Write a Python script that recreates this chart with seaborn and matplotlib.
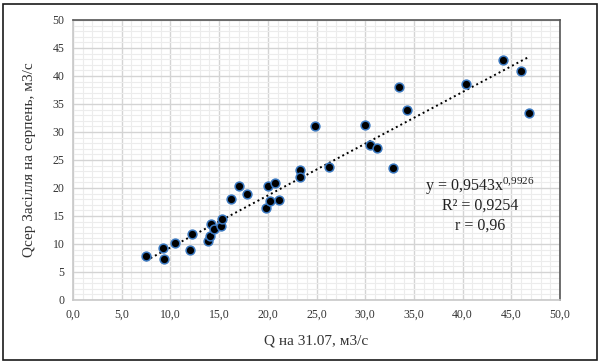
import numpy as np
import pandas as pd
import matplotlib
matplotlib.use("Agg")
import matplotlib.pyplot as plt
import seaborn as sns
from matplotlib.patches import Rectangle

# Discharge on 31.07 vs. mean August discharge, Zaseillia
q_jul31 = [7.5, 9.2, 9.3, 10.5, 12.0, 12.2, 13.9, 14.1, 14.2, 14.5, 15.2, 15.3,
           16.2, 17.0, 17.9, 19.8, 20.0, 20.2, 20.7, 21.1, 23.3, 23.3, 24.8,
           26.3, 30.0, 30.5, 31.2, 32.9, 33.5, 34.3, 40.4, 44.1, 46.0, 46.8]
q_aug = [7.8, 9.2, 7.3, 10.2, 8.9, 11.8, 10.5, 11.5, 13.5, 12.7, 13.2, 14.4,
         18.1, 20.4, 18.9, 16.4, 20.4, 17.7, 20.9, 17.8, 23.2, 21.9, 31.0,
         23.8, 31.2, 27.6, 27.1, 23.5, 38.0, 33.9, 38.6, 42.9, 40.9, 33.4]

# Power trend parameters
coef_a = 0.9543
coef_b = 0.9926
eq_lines = ["y = 0,9543x$^{0{,}9926}$", "R² = 0,9254", "r = 0,96"]

x_ticks = [0, 5, 10, 15, 20, 25, 30, 35, 40, 45, 50]
x_tick_labels = ["0,0", "5,0", "10,0", "15,0", "20,0", "25,0", "30,0", "35,0",
                 "40,0", "45,0", "50,0"]
y_ticks = [0, 5, 10, 15, 20, 25, 30, 35, 40, 45, 50]
y_tick_labels = ["0", "5", "10", "15", "20", "25", "30", "35", "40", "45", "50"]

x_label = "Q на 31.07, м3/с"
y_label = "Qсер Засілля на серпень, м3/с"

sns.set_theme(style="white")
plt.rcParams["font.family"] = ["Liberation Serif", "DejaVu Serif"]
plt.rcParams["mathtext.fontset"] = "custom"
plt.rcParams["mathtext.rm"] = "Liberation Serif"
plt.rcParams["mathtext.it"] = "Liberation Serif"
plt.rcParams["mathtext.default"] = "rm"

df = pd.DataFrame({"x": q_jul31, "y": q_aug})

fig = plt.figure(figsize=(6.0, 3.63), dpi=100)
ax = fig.add_axes([73 / 600, 1 - 300 / 363, 487 / 600, 280 / 363])

# Outer frame around the whole chart
fig.patches.append(Rectangle((3 / 600, 3.5 / 363), 594 / 600, 356 / 363,
                             transform=fig.transFigure, fill=False,
                             edgecolor="#1a1a1a", linewidth=1.2))

ax.set_xlim(0, 50)
ax.set_ylim(0, 50)
ax.set_xticks(x_ticks)
ax.set_xticklabels(x_tick_labels)
ax.set_yticks(y_ticks)
ax.set_yticklabels(y_tick_labels)
ax.set_xticks(np.arange(0, 51, 1), minor=True)
ax.set_yticks(np.arange(0, 51, 1), minor=True)
ax.grid(which="minor", color="#ececec", linewidth=0.8)
ax.grid(which="major", color="#d4d4d4", linewidth=1.0)
ax.set_axisbelow(True)
ax.tick_params(which="both", length=0, labelsize=8.5, colors="#333333", pad=6)

for side in ("left", "bottom"):
    ax.spines[side].set_color("#c8c8c8")
    ax.spines[side].set_linewidth(1.2)
for side in ("top", "right"):
    ax.spines[side].set_color("#555555")
    ax.spines[side].set_linewidth(1.2)

# Power trend line from the fitted coefficients
xt = np.linspace(min(q_jul31), max(q_jul31), 200)
ax.plot(xt, coef_a * xt ** coef_b, color="black", linestyle=(0, (1, 1.6)),
        linewidth=1.4, zorder=2)

sns.scatterplot(data=df, x="x", y="y", ax=ax, s=40, color="black",
                edgecolor="#3a78c0", linewidth=1.1, zorder=3, legend=False)

ax.set_xlabel(x_label, fontsize=11, color="#333333", labelpad=10)
ax.set_ylabel(y_label, fontsize=11, color="#333333", labelpad=12)

for i, line in enumerate(eq_lines):
    ax.text(41.8, 20.3 - i * 3.5, line, fontsize=11.5, color="#222222",
            ha="center", va="center")

fig.savefig("out.png", dpi=100)
